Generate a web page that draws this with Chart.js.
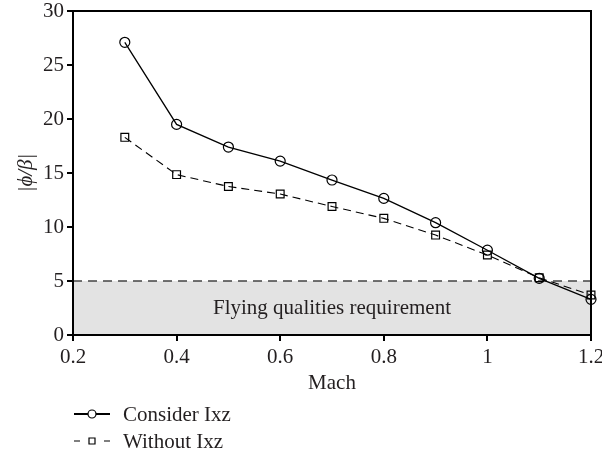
<!DOCTYPE html>
<html>
<head>
<meta charset="utf-8">
<script src="https://cdn.jsdelivr.net/npm/chart.js@4"></script>
<style>
  html, body { margin: 0; padding: 0; background: #fff; }
  #wrap { width: 602px; height: 453px; }
</style>
</head>
<body>
<div id="wrap"><canvas id="myChart" width="602" height="453"></canvas></div>
<script>
const mach = [0.3, 0.4, 0.5, 0.6, 0.7, 0.8, 0.9, 1.0, 1.1, 1.2];
const considerIxz = [27.1, 19.5, 17.4, 16.1, 14.35, 12.65, 10.4, 7.85, 5.25, 3.3];
const withoutIxz = [18.3, 14.85, 13.75, 13.05, 11.9, 10.8, 9.25, 7.4, 5.3, 3.7];
const reqMach = [0.2, 1.2];
const reqLevel = [5, 5];
const reqText = 'Flying qualities requirement';

const serif = '"Liberation Serif", "DejaVu Serif", serif';
const fsize = 21;
const ctx = document.getElementById('myChart');

const toPoints = (xs, ys) => xs.map((x, i) => ({ x: x, y: ys[i] }));

// frame, text in the band, and the two-row legend underneath
const extras = {
  id: 'extras',
  beforeDatasetsDraw(chart) {
    const c = chart.ctx;
    const a = chart.chartArea;
    const sx = chart.scales.x, sy = chart.scales.y;
    c.save();
    c.fillStyle = '#231f20';
    c.font = fsize + 'px ' + serif;
    c.textAlign = 'center';
    c.textBaseline = 'middle';
    // band fill is drawn by dataset 0, so text goes after it via afterDatasetDraw below
    c.restore();
  },
  afterDatasetDraw(chart, args) {
    if (args.index !== 0) return;
    const c = chart.ctx;
    const a = chart.chartArea;
    const sx = chart.scales.x, sy = chart.scales.y;
    c.save();
    c.strokeStyle = '#000';
    c.lineWidth = 2;
    c.strokeRect(a.left, a.top, a.right - a.left, a.bottom - a.top);
    c.fillStyle = '#231f20';
    c.font = fsize + 'px ' + serif;
    c.textAlign = 'center';
    c.textBaseline = 'middle';
    c.fillText(reqText, sx.getPixelForValue(0.7), sy.getPixelForValue(2.5));
    c.restore();
  },
  afterDatasetsDraw(chart) {
    const c = chart.ctx;
    c.save();
    c.font = fsize + 'px ' + serif;
    c.textBaseline = 'middle';
    const items = chart.data.datasets.filter(d => d.label);
    items.forEach((d, i) => {
      const y = 414 + i * 27;
      const x0 = 74, x1 = 110, xm = 92;
      c.strokeStyle = '#000';
      c.lineWidth = i === 0 ? 2 : 1.2;
      c.beginPath();
      if (i === 0) { c.moveTo(x0, y); c.lineTo(x1, y); }
      else { c.moveTo(x0, y); c.lineTo(x0 + 6, y); c.moveTo(x1 - 6, y); c.lineTo(x1, y); }
      c.stroke();
      c.lineWidth = 1.2;
      c.fillStyle = '#fff';
      c.beginPath();
      if (d.pointStyle === 'rect') { c.rect(xm - 3, y - 3, 6, 6); }
      else { c.arc(xm, y, 4, 0, Math.PI * 2); }
      c.fill();
      c.stroke();
      c.fillStyle = '#231f20';
      c.textAlign = 'left';
      c.fillText(d.label, 123, y + 1);
    });
    c.restore();
  }
};

new Chart(ctx, {
  type: 'line',
  data: {
    datasets: [
      {
        data: toPoints(reqMach, reqLevel),
        borderColor: '#444',
        borderWidth: 1.5,
        borderDash: [9, 6],
        backgroundColor: '#e3e3e3',
        fill: 'origin',
        pointRadius: 0,
        order: 3
      },
      {
        label: 'Consider Ixz',
        data: toPoints(mach, considerIxz),
        borderColor: '#000',
        borderWidth: 1.3,
        pointStyle: 'circle',
        pointRadius: 5,
        pointBorderWidth: 1.2,
        pointBackgroundColor: 'rgba(255,255,255,0)',
        pointBorderColor: '#000',
        fill: false,
        clip: false,
        order: 1
      },
      {
        label: 'Without Ixz',
        data: toPoints(mach, withoutIxz),
        borderColor: '#000',
        borderWidth: 1.1,
        borderDash: [8, 5],
        pointStyle: 'rect',
        pointRadius: 5.5,
        pointBorderWidth: 1.2,
        pointBackgroundColor: 'rgba(255,255,255,0)',
        pointBorderColor: '#000',
        fill: false,
        clip: false,
        order: 2
      }
    ]
  },
  options: {
    responsive: false,
    animation: false,
    layout: { padding: { top: 0, right: 0, bottom: 57, left: 0 } },
    plugins: {
      legend: { display: false },
      tooltip: { enabled: false }
    },
    scales: {
      x: {
        type: 'linear',
        min: 0.2,
        max: 1.2,
        afterFit: s => { s.height = 61; s.paddingRight = 11; },
        ticks: {
          stepSize: 0.2,
          color: '#231f20',
          font: { family: serif, size: fsize },
          padding: 4,
          callback: v => Math.round(v * 10) / 10
        },
        grid: { drawOnChartArea: false, drawTicks: true, tickLength: 6, color: '#000', lineWidth: 2 },
        border: { display: true, color: '#000', width: 2 },
        title: { display: true, text: 'Mach', color: '#231f20', font: { family: serif, size: fsize }, padding: 0 }
      },
      y: {
        min: 0,
        max: 30,
        afterFit: s => { s.width = 73; s.paddingTop = 11; },
        ticks: {
          stepSize: 5,
          color: '#231f20',
          font: { family: serif, size: fsize },
          padding: 3
        },
        grid: { drawOnChartArea: false, drawTicks: true, tickLength: 6, color: '#000', lineWidth: 2 },
        border: { display: true, color: '#000', width: 2 },
        title: { display: true, text: '|ϕ/β|', color: '#231f20', font: { family: serif, size: 21, style: 'italic' }, padding: { top: 14, bottom: 0 } }
      }
    }
  },
  plugins: [extras]
});
</script>
</body>
</html>
